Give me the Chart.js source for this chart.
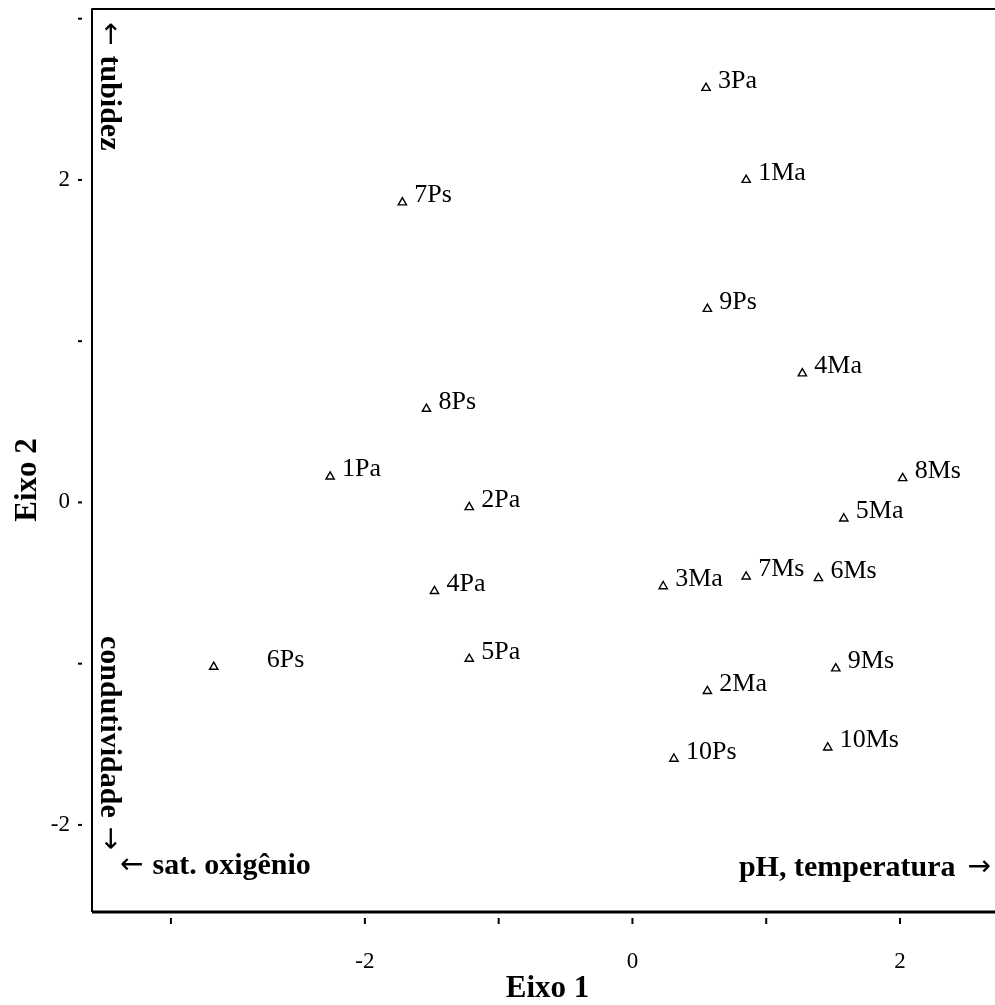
<!DOCTYPE html>
<html>
<head>
<meta charset="utf-8">
<script src="https://cdn.jsdelivr.net/npm/chart.js@4/dist/chart.umd.min.js"></script>
<style>
    html, body { margin: 0; padding: 0; overflow: hidden; background: #fff; }
    #wrap { width: 1010px; height: 1005px; }
</style>
</head>
<body>
<div id="wrap"><canvas id="pca" width="1010" height="1005"></canvas></div>
<script>
// sampling sites (P = ponto, M = ...; a/s = season)
const sites = ['3Pa', '1Ma', '7Ps', '9Ps', '4Ma', '8Ps', '1Pa', '8Ms', '2Pa', '5Ma',
    '3Ma', '7Ms', '6Ms', '4Pa', '6Ps', '5Pa', '9Ms', '2Ma', '10Ms', '10Ps'];
const eixo1 = [0.55, 0.85, -1.72, 0.56, 1.27, -1.54, -2.26, 2.02, -1.22, 1.58,
    0.23, 0.85, 1.39, -1.48, -3.13, -1.22, 1.52, 0.56, 1.46, 0.31];
const eixo2 = [2.57, 2.00, 1.86, 1.20, 0.80, 0.58, 0.16, 0.15, -0.03, -0.10,
    -0.52, -0.46, -0.47, -0.55, -1.02, -0.97, -1.03, -1.17, -1.52, -1.59];

const xTickValues = [-3.45, -2, -1, 0, 1, 2];
const xTickLabels = ['', '-2', '', '0', '', '2'];
const yTickValues = [-2, -1, 0, 1, 2, 3];
const yTickLabels = ['-2', '', '0', '', '2', ''];

const serif = "'Liberation Serif', 'Times New Roman', serif";
const noteFont = 'bold 30px ' + serif;
const arrowFont = '28px "DejaVu Sans"';

// 6Ps label sits further out than the rest
const labelShift = { '6Ps': 41 };

const points = eixo1.map((x, i) => ({ x: x, y: eixo2[i] }));

// writes pieces of text one after another, each with its own font
function drawPieces(ctx, pieces, x, y) {
    let cx = x;
    pieces.forEach(p => {
        ctx.font = p.font;
        ctx.fillText(p.text, cx, y);
        cx += ctx.measureText(p.text).width + (p.gap || 0);
    });
}

function piecesWidth(ctx, pieces) {
    let w = 0;
    pieces.forEach(p => {
        ctx.font = p.font;
        w += ctx.measureText(p.text).width + (p.gap || 0);
    });
    return w;
}

const framePlugin = {
    id: 'frame',
    afterDraw(chart) {
        const ctx = chart.ctx;
        const a = chart.chartArea;
        ctx.save();
        ctx.strokeStyle = '#000';
        ctx.lineJoin = 'round';
        ctx.lineWidth = 2;
        ctx.beginPath();
        ctx.moveTo(a.right, a.top);
        ctx.lineTo(a.left, a.top);
        ctx.lineTo(a.left, a.bottom);
        ctx.stroke();
        ctx.lineWidth = 3;
        ctx.beginPath();
        ctx.moveTo(a.left, a.bottom);
        ctx.lineTo(a.right, a.bottom);
        ctx.stroke();

        // detached tick marks
        ctx.lineWidth = 2;
        chart.scales.x.ticks.forEach(t => {
            const px = chart.scales.x.getPixelForValue(t.value);
            ctx.beginPath();
            ctx.moveTo(px, a.bottom + 6);
            ctx.lineTo(px, a.bottom + 12);
            ctx.stroke();
        });
        chart.scales.y.ticks.forEach(t => {
            const py = chart.scales.y.getPixelForValue(t.value);
            ctx.beginPath();
            ctx.moveTo(a.left - 14, py);
            ctx.lineTo(a.left - 10, py);
            ctx.stroke();
        });

        ctx.fillStyle = '#000';
        ctx.textBaseline = 'middle';

        // vertical axis title
        ctx.save();
        ctx.translate(28, 480);
        ctx.rotate(-Math.PI / 2);
        ctx.textAlign = 'center';
        ctx.font = 'bold 31px ' + serif;
        ctx.fillText('Eixo 2', 0, 0);
        ctx.restore();

        // direction notes along the axes
        ctx.textAlign = 'left';
        drawPieces(ctx, [
            { text: '\u2190', font: arrowFont, gap: 9 },
            { text: 'sat. oxig\u00eanio', font: noteFont }
        ], 120, 866);

        const right = [
            { text: 'pH, temperatura', font: noteFont, gap: 12 },
            { text: '\u2192', font: arrowFont }
        ];
        drawPieces(ctx, right, 991 - piecesWidth(ctx, right), 868);

        ctx.save();
        ctx.translate(109, 22);
        ctx.rotate(Math.PI / 2);
        drawPieces(ctx, [
            { text: '\u2190', font: arrowFont, gap: 10 },
            { text: 'tubidez', font: noteFont }
        ], 0, 0);
        ctx.restore();

        ctx.save();
        ctx.translate(109, 636);
        ctx.rotate(Math.PI / 2);
        drawPieces(ctx, [
            { text: 'condutividade', font: noteFont, gap: 9 },
            { text: '\u2192', font: arrowFont }
        ], 0, 0);
        ctx.restore();

        ctx.restore();
    },
    afterDatasetsDraw(chart) {
        const ctx = chart.ctx;
        const meta = chart.getDatasetMeta(0);
        ctx.save();
        ctx.fillStyle = '#000';
        ctx.font = '26px ' + serif;
        ctx.textAlign = 'left';
        ctx.textBaseline = 'middle';
        meta.data.forEach((pt, i) => {
            const dx = 12 + (labelShift[sites[i]] || 0);
            ctx.fillText(sites[i], pt.x + dx, pt.y - 7);
        });
        ctx.restore();
    }
};

new Chart(document.getElementById('pca'), {
    type: 'scatter',
    data: {
        datasets: [{
            data: points,
            pointStyle: 'triangle',
            pointRadius: 4.8,
            pointHoverRadius: 4.8,
            borderColor: '#000',
            backgroundColor: '#fff',
            borderWidth: 1.4
        }]
    },
    options: {
        responsive: false,
        animation: false,
        devicePixelRatio: 1,
        layout: { padding: { top: 9, right: 7, left: 0, bottom: 0 } },
        plugins: {
            legend: { display: false },
            tooltip: { enabled: false }
        },
        scales: {
            x: {
                type: 'linear',
                min: -4.04,
                max: 2.77,
                grid: { display: false },
                border: { display: false },
                afterBuildTicks: scale => {
                    scale.ticks = xTickValues.map(v => ({ value: v }));
                },
                afterFit: scale => {
                    scale.height = 93;
                    scale.paddingLeft = 0;
                    scale.paddingRight = 0;
                },
                ticks: {
                    autoSkip: false,
                    maxRotation: 0,
                    padding: 28,
                    color: '#000',
                    font: { family: serif, size: 23 },
                    callback: (v, i) => xTickLabels[i]
                },
                title: {
                    display: true,
                    text: 'Eixo 1',
                    color: '#000',
                    font: { family: serif, size: 31, weight: 'bold' },
                    padding: { top: 0, bottom: -3 }
                }
            },
            y: {
                type: 'linear',
                min: -2.54,
                max: 3.06,
                grid: { display: false },
                border: { display: false },
                afterBuildTicks: scale => {
                    scale.ticks = yTickValues.map(v => ({ value: v }));
                },
                afterFit: scale => {
                    scale.width = 92;
                    scale.paddingTop = 0;
                    scale.paddingBottom = 0;
                },
                ticks: {
                    autoSkip: false,
                    padding: 14,
                    color: '#000',
                    font: { family: serif, size: 23 },
                    callback: (v, i) => yTickLabels[i]
                },
                title: { display: false }
            }
        }
    },
    plugins: [framePlugin]
});
</script>
</body>
</html>
